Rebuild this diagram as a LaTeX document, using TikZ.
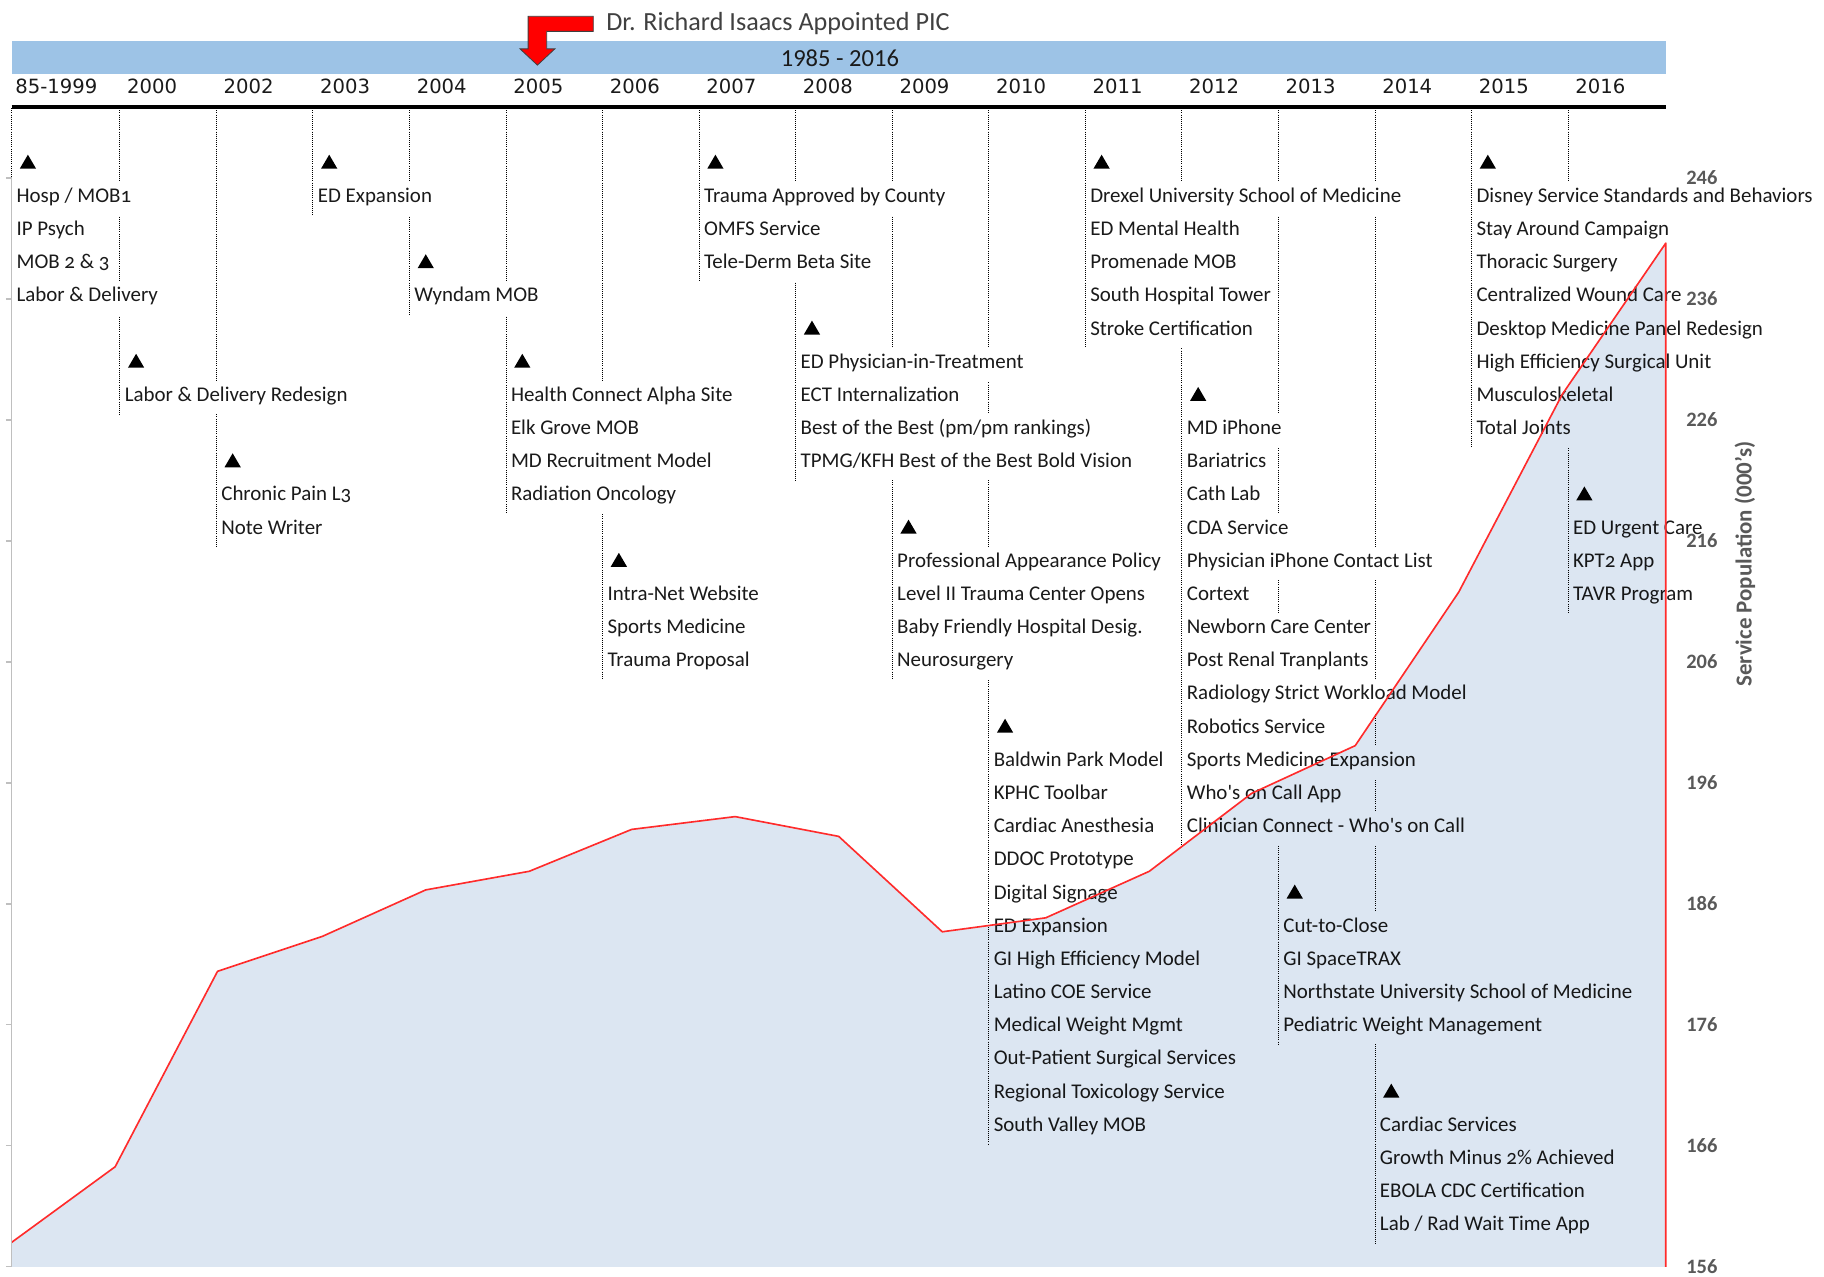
\documentclass[tikz,border=0pt]{standalone}
\usepackage{fontspec}
\setmainfont{Carlito}
\newfontfamily\entryfont[Numbers=OldStyle]{Carlito}
\newfontfamily\yearfont{DejaVu Sans}
\usetikzlibrary{calc}

\definecolor{band}{HTML}{9DC3E6}
\definecolor{area}{HTML}{DCE6F2}
\definecolor{popred}{HTML}{FF2B2B}
\definecolor{axisgrey}{HTML}{BFBFBF}
\definecolor{labgrey}{HTML}{595959}
\definecolor{ink}{HTML}{1A1A1A}

\pgfdeclarelayer{lines}
\pgfsetlayers{lines,main}

\tikzset{
    entry/.style={anchor=west, fill=white, inner xsep=0.5mm, inner ysep=0pt,
        minimum height=7.15mm, text height=2.4mm, text depth=0.7mm, text=ink,
        font=\entryfont\fontsize{12.8}{15}\selectfont},
    yearlabel/.style={anchor=west, inner sep=0pt, text=ink,
        font=\yearfont\fontsize{12}{14}\selectfont},
    lead/.style={line width=0.6pt, dash pattern=on 0.6pt off 0.7pt},
    axlab/.style={text=labgrey, inner sep=0pt, font=\bfseries\fontsize{12.5}{14}\selectfont},
    pointer/.style={fill=red, draw=black!75, line width=0.5pt, line join=miter}
}

% triangle above the first event of a column
\newcommand{\milestone}[2]{\fill[black] ($(#1)+(7,{52+28.52*#2})$) -- ++(14,0) -- ++(-7,-12) -- cycle;}
% one text box per event line
\newcommand{\events}[4][]{%
    \foreach \txt [count=\r from #3] in {#4}
        \node[entry,#1] (#2-\r) at ($(#2)+(2,{49+28.52*\r})$) {\txt};}

\begin{document}
\begin{tikzpicture}[x=0.25mm, y=-0.25mm]
    \useasboundingbox (0,0) rectangle (1568,1097);

    \coordinate (y85) at (10,93);
    \foreach \n [count=\k from 0] in {00,02,03,04,05,06,07,08,09,10,11,12,13,14,15,16}
        \coordinate (y\n) at ({103+83*\k},93);

    % Header
    \fill[band] (10,35) rectangle (1432,64);
    \node[text=ink, font=\fontsize{15}{17}\selectfont] (span) at (722,50) {1985 - 2016};
    \node[anchor=west, inner sep=0pt, text=black!75, font=\fontsize{16}{18}\selectfont] (pic) at (521,20) {Dr. Richard Isaacs Appointed PIC};
    \draw[pointer] (510,14) -- (454,14) -- (454,42) -- (447,42) -- (462,56) -- (477,42) -- (470,42) -- (470,27) -- (510,27) -- cycle;

    % Years
    \node[yearlabel] (l85) at ($(y85)+(3,-19)$) {85-1999};
    \foreach \n/\yr in {00/2000,02/2002,03/2003,04/2004,05/2005,06/2006,07/2007,08/2008,
        09/2009,10/2010,11/2011,12/2012,13/2013,14/2014,15/2015,16/2016}
        \node[yearlabel] (l\n) at ($(y\n)+(6,-19)$) {\yr};
    \draw[line width=2.2pt] (10,92) -- (1432,92);

    % Events
    \milestone{y85}{0}
    \events{y85}{1}{Hosp / MOB1, IP Psych, MOB 2 \& 3, Labor \& Delivery}
    \milestone{y00}{6}
    \events{y00}{7}{Labor \& Delivery Redesign}
    \milestone{y02}{9}
    \events{y02}{10}{Chronic Pain L3, Note Writer}
    \milestone{y03}{0}
    \events{y03}{1}{ED Expansion}
    \milestone{y04}{3}
    \events{y04}{4}{Wyndam MOB}
    \milestone{y05}{6}
    \events{y05}{7}{Health Connect Alpha Site, Elk Grove MOB, MD Recruitment Model, Radiation Oncology}
    \milestone{y06}{12}
    \events{y06}{13}{Intra-Net Website, Sports Medicine, Trauma Proposal}
    \milestone{y07}{0}
    \events{y07}{1}{Trauma Approved by County, OMFS Service, Tele-Derm Beta Site}
    \milestone{y08}{5}
    \events{y08}{6}{ED Physician-in-Treatment, ECT Internalization, Best of the Best (pm/pm rankings), TPMG/KFH Best of the Best Bold Vision}
    \milestone{y09}{11}
    \events{y09}{12}{Professional Appearance Policy, Level II Trauma Center Opens, Baby Friendly Hospital Desig., Neurosurgery}
    \milestone{y10}{17}
    \events{y10}{18}{Baldwin Park Model, KPHC Toolbar, Cardiac Anesthesia, DDOC Prototype, Digital Signage, ED Expansion,
        GI High Efficiency Model, Latino COE Service, Medical Weight Mgmt, Out-Patient Surgical Services,
        Regional Toxicology Service, South Valley MOB}
    \milestone{y11}{0}
    \events{y11}{1}{Drexel University School of Medicine, ED Mental Health, Promenade MOB, South Hospital Tower, Stroke Certification}
    \milestone{y12}{7}
    \events{y12}{8}{MD iPhone, Bariatrics, Cath Lab, CDA Service, Physician iPhone Contact List, Cortext, Newborn Care Center,
        Post Renal Tranplants, Radiology Strict Workload Model, Robotics Service, Sports Medicine Expansion,
        Who's on Call App, Clinician Connect - Who's on Call}
    \milestone{y13}{22}
    \events[text width=80mm, align=flush left]{y13}{23}{Cut-to-Close, GI SpaceTRAX, Northstate University School of Medicine, Pediatric Weight Management}
    \milestone{y14}{28}
    \events{y14}{29}{Cardiac Services, Growth Minus 2\% Achieved, EBOLA CDC Certification, Lab / Rad Wait Time App}
    \milestone{y15}{0}
    \events{y15}{1}{Disney Service Standards and Behaviors, Stay Around Campaign, Thoracic Surgery, Centralized Wound Care,
        Desktop Medicine Panel Redesign, High Efficiency Surgical Unit, Musculoskeletal, Total Joints}
    \milestone{y16}{10}
    \events{y16}{11}{ED Urgent Care, KPT2 App, TAVR Program}

    % Leader lines (under the text boxes)
    \begin{pgfonlayer}{lines}
        \foreach \n/\last in {85/4,00/7,02/11,03/1,04/4,05/10,06/15,07/3,08/9,09/15,10/29,11/5,12/20,13/26,14/32,15/8,16/13}
            \draw[lead] (y\n) -- (y\n |- y\n-\last.south);
    \end{pgfonlayer}

    % Service population
    \begin{scope}[blend mode=multiply]
        \fill[area] (10,1089) -- (10,1068) -- (99,1003) -- (187,835) -- (277,805) -- (366,765) -- (455,749)
            -- (543,713) -- (632,702) -- (721,719) -- (810,801) -- (899,789) -- (988,749) -- (1076,682)
            -- (1165,641) -- (1254,509) -- (1343,339) -- (1432,209) -- (1432,1089) -- cycle;
    \end{scope}
    \draw[popred, line width=1pt, line join=round] (10,1068) -- (99,1003) -- (187,835) -- (277,805) -- (366,765)
        -- (455,749) -- (543,713) -- (632,702) -- (721,719) -- (810,801) -- (899,789) -- (988,749)
        -- (1076,682) -- (1165,641) -- (1254,509) -- (1343,339) -- (1432,209) -- (1432,1089);

    % Axes
    \draw[axisgrey, line width=0.8pt] (10,153) -- (10,1089);
    \foreach \i in {0,...,9}
        \draw[axisgrey, line width=0.8pt] (5,{153+104*\i}) -- (10,{153+104*\i});
    \foreach \v [count=\i from 0] in {246,236,...,156}
        \node[axlab] (v\v) at (1463,{153+104*\i}) {\v};
    \node[axlab, font=\bfseries\fontsize{14}{16}\selectfont, rotate=90] (ytitle) at (1500,485) {Service Population (000's)};

\end{tikzpicture}
\end{document}
